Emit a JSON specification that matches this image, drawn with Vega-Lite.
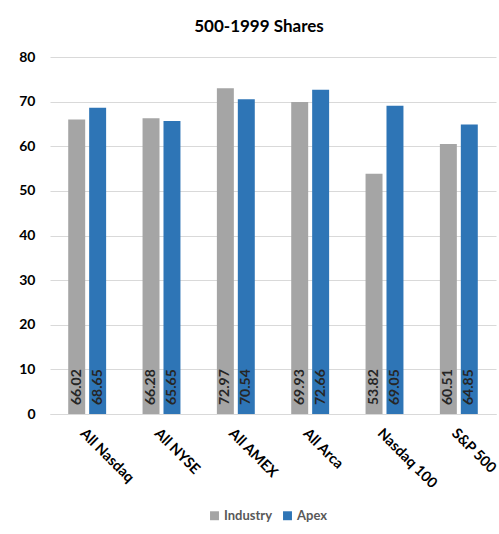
{
  "$schema": "https://vega.github.io/schema/vega-lite/v6.json",
  "width": 446,
  "height": 357,
  "autosize": {"type": "none"},
  "padding": {"left": 50, "top": 57, "right": 3, "bottom": 120},
  "background": "white",
  "title": {
    "text": "500-1999 Shares",
    "font": "Lato",
    "fontSize": 17,
    "fontWeight": "bold",
    "color": "#000000",
    "anchor": "middle",
    "dx": -14,
    "offset": 14
  },
  "config": {
    "font": "Lato",
    "view": {"stroke": null}
  },
  "data": {
    "values": [
      {"market": "All Nasdaq", "series": "Industry", "value": 66.02},
      {"market": "All Nasdaq", "series": "Apex", "value": 68.65},
      {"market": "All NYSE", "series": "Industry", "value": 66.28},
      {"market": "All NYSE", "series": "Apex", "value": 65.65},
      {"market": "All AMEX", "series": "Industry", "value": 72.97},
      {"market": "All AMEX", "series": "Apex", "value": 70.54},
      {"market": "All Arca", "series": "Industry", "value": 69.93},
      {"market": "All Arca", "series": "Apex", "value": 72.66},
      {"market": "Nasdaq 100", "series": "Industry", "value": 53.82},
      {"market": "Nasdaq 100", "series": "Apex", "value": 69.05},
      {"market": "S&P 500", "series": "Industry", "value": 60.51},
      {"market": "S&P 500", "series": "Apex", "value": 64.85}
    ]
  },
  "encoding": {
    "x": {
      "field": "market",
      "type": "nominal",
      "sort": null,
      "title": null,
      "scale": {"paddingInner": 0.49, "paddingOuter": 0.245},
      "axis": {
        "labelAngle": 45,
        "labelAlign": "left",
        "labelBaseline": "top",
        "labelFont": "Lato",
        "labelFontSize": 14.5,
        "labelFontWeight": "bold",
        "labelColor": "#000000",
        "labelPadding": 12,
        "ticks": false,
        "domainColor": "#D9D9D9",
        "domainWidth": 1,
        "grid": false
      }
    },
    "xOffset": {
      "field": "series",
      "type": "nominal",
      "sort": ["Industry", "Apex"],
      "scale": {"paddingInner": 0.19, "paddingOuter": 0}
    },
    "y": {
      "field": "value",
      "type": "quantitative",
      "title": null,
      "scale": {"domain": [0, 80], "nice": false},
      "axis": {
        "values": [0, 10, 20, 30, 40, 50, 60, 70, 80],
        "labelFont": "Lato",
        "labelFontSize": 14,
        "labelFontWeight": "bold",
        "labelColor": "#000000",
        "labelPadding": 15,
        "ticks": false,
        "domain": false,
        "grid": true,
        "gridColor": "#D9D9D9",
        "gridWidth": 1
      }
    }
  },
  "layer": [
    {
      "mark": {"type": "bar"},
      "encoding": {
        "color": {
          "field": "series",
          "type": "nominal",
          "scale": {"domain": ["Industry", "Apex"], "range": ["#A5A5A5", "#2E75B6"]},
          "legend": {
            "title": null,
            "orient": "none",
            "direction": "horizontal",
            "legendX": 158,
            "legendY": 452,
            "symbolType": "square",
            "symbolSize": 80,
            "symbolStrokeWidth": 0,
            "labelFont": "Lato",
            "labelFontSize": 13,
            "labelFontWeight": "bold",
            "labelColor": "#595959",
            "columnPadding": 8,
            "labelOffset": 3
          }
        }
      }
    },
    {
      "mark": {
        "type": "text",
        "angle": 270,
        "align": "left",
        "baseline": "middle",
        "dx": 9,
        "fontSize": 14,
        "fontWeight": "bold",
        "font": "Lato",
        "color": "#262626"
      },
      "encoding": {
        "y": {"datum": 0, "type": "quantitative"},
        "text": {"field": "value", "type": "quantitative", "format": ".2f"}
      }
    }
  ]
}
